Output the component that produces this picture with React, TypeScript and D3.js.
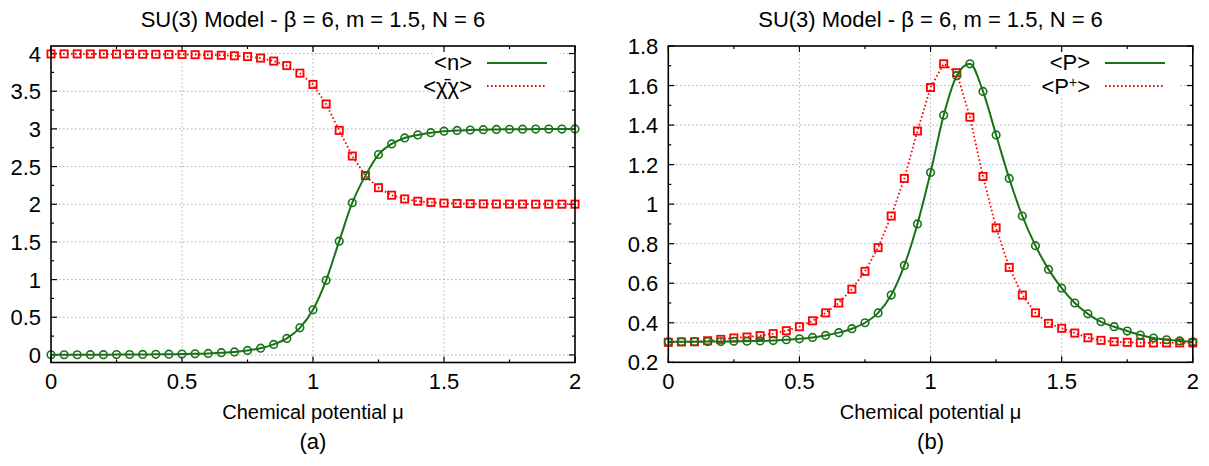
import React from "react";
import * as d3 from "d3";

// chemical potential grid
const MU = [0, 0.05, 0.1, 0.15, 0.2, 0.25, 0.3, 0.35, 0.4, 0.45, 0.5, 0.55, 0.6, 0.65, 0.7, 0.75, 0.8, 0.85, 0.9, 0.95, 1.0,
  1.05, 1.1, 1.15, 1.2, 1.25, 1.3, 1.35, 1.4, 1.45, 1.5, 1.55, 1.6, 1.65, 1.7, 1.75, 1.8, 1.85, 1.9, 1.95, 2.0];

// panel (a)
const N_VALUES = [0.003, 0.003, 0.003, 0.004, 0.004, 0.005, 0.006, 0.007, 0.008, 0.01, 0.012, 0.015, 0.02, 0.03, 0.04, 0.06,
  0.09, 0.14, 0.22, 0.36, 0.6, 0.99, 1.51, 2.02, 2.38, 2.66, 2.8, 2.88, 2.92, 2.95, 2.97, 2.98, 2.985, 2.99, 2.993, 2.995,
  2.996, 2.997, 2.998, 2.998, 2.999];
const CHI_VALUES = [3.995, 3.995, 3.995, 3.994, 3.994, 3.993, 3.992, 3.991, 3.99, 3.989, 3.988, 3.985, 3.982, 3.977, 3.97,
  3.96, 3.94, 3.9, 3.84, 3.74, 3.59, 3.33, 2.98, 2.64, 2.38, 2.22, 2.12, 2.07, 2.04, 2.025, 2.015, 2.01, 2.007, 2.005, 2.003,
  2.002, 2.002, 2.001, 2.001, 2.001, 2.001];

// panel (b)
const P_VALUES = [0.304, 0.304, 0.304, 0.305, 0.305, 0.306, 0.307, 0.308, 0.31, 0.314, 0.319, 0.326, 0.336, 0.35, 0.37, 0.4,
  0.45, 0.54, 0.69, 0.9, 1.16, 1.45, 1.65, 1.71, 1.57, 1.35, 1.13, 0.94, 0.79, 0.67, 0.575, 0.5, 0.445, 0.405, 0.38, 0.358,
  0.338, 0.323, 0.314, 0.308, 0.304];
const PDAG_VALUES = [0.301, 0.303, 0.304, 0.309, 0.316, 0.323, 0.328, 0.335, 0.345, 0.36, 0.38, 0.41, 0.45, 0.5, 0.57, 0.66,
  0.78, 0.94, 1.13, 1.37, 1.59, 1.71, 1.665, 1.44, 1.14, 0.88, 0.68, 0.54, 0.45, 0.397, 0.372, 0.348, 0.324, 0.311, 0.304,
  0.301, 0.299, 0.298, 0.298, 0.298, 0.298];

const X_TICKS = [0, 0.5, 1, 1.5, 2];
const X_TICK_LABELS = ["0", "0.5", "1", "1.5", "2"];
const X_MINOR = [0.25, 0.75, 1.25, 1.75];
const YA_TICKS = [0, 0.5, 1, 1.5, 2, 2.5, 3, 3.5, 4];
const YA_TICK_LABELS = ["0", "0.5", "1", "1.5", "2", "2.5", "3", "3.5", "4"];
const YA_MINOR = [0.25, 0.75, 1.25, 1.75, 2.25, 2.75, 3.25, 3.75];
const YB_TICKS = [0.2, 0.4, 0.6, 0.8, 1.0, 1.2, 1.4, 1.6, 1.8];
const YB_TICK_LABELS = ["0.2", "0.4", "0.6", "0.8", "1", "1.2", "1.4", "1.6", "1.8"];
const YB_MINOR = [0.3, 0.5, 0.7, 0.9, 1.1, 1.3, 1.5, 1.7];

const TITLE = "SU(3) Model - \u03B2 = 6, m = 1.5, N = 6";
const XLABEL = "Chemical potential \u03BC";

const GREEN = "#1a7218";
const RED = "#ff0000";
const FONT = "'Liberation Sans', Arial, Helvetica, sans-serif";

type PanelProps = {
  left: number; right: number; top: number; bottom: number;
  yDomain: [number, number];
  yTicks: number[]; yLabels: string[]; yMinor: number[];
  green: number[]; red: number[];
  greenLabel: React.ReactNode; redLabel: React.ReactNode;
  legendTextX: number; legendBox: [number, number, number, number];
  tag: string;
};

function Panel(p: PanelProps) {
  const x = d3.scaleLinear().domain([0, 2]).range([p.left, p.right]);
  const y = d3.scaleLinear().domain(p.yDomain).range([p.bottom, p.top]);
  const gLine = d3.line<number>().x((_, i) => x(MU[i])).y((d) => y(d)).curve(d3.curveMonotoneX);
  const rLine = d3.line<number>().x((_, i) => x(MU[i])).y((d) => y(d));
  const cx = (p.left + p.right) / 2;
  const eps = 1e-6;
  const yGrid = p.yTicks.filter((t) => y(t) > p.top + 1 && y(t) < p.bottom - 1);
  const xGrid = X_TICKS.filter((t) => t > eps && t < 2 - eps);
  const lgX1 = p.legendTextX + 15;
  const lgX2 = p.legendTextX + 75;
  return (
    <g>
      <text x={cx} y={27} textAnchor="middle" fontSize={22} fontFamily={FONT}>{TITLE}</text>
      {/* grid */}
      <g stroke="#b0b0b0" strokeWidth={1} strokeDasharray="1.5,2.5">
        {yGrid.map((t) => <line key={"gy" + t} x1={p.left} x2={p.right} y1={y(t)} y2={y(t)} />)}
        {xGrid.map((t) => <line key={"gx" + t} x1={x(t)} x2={x(t)} y1={p.top} y2={p.bottom} />)}
      </g>
      <rect x={p.legendBox[0]} y={p.legendBox[1]} width={p.legendBox[2]} height={p.legendBox[3]} fill="#fff" />
      {/* ticks */}
      <g stroke="#000" strokeWidth={1.2}>
        {p.yTicks.map((t) => (
          <g key={"ty" + t}>
            <line x1={p.left} x2={p.left + 6} y1={y(t)} y2={y(t)} />
            <line x1={p.right} x2={p.right - 6} y1={y(t)} y2={y(t)} />
          </g>
        ))}
        {p.yMinor.map((t) => (
          <g key={"tym" + t}>
            <line x1={p.left} x2={p.left + 3} y1={y(t)} y2={y(t)} />
            <line x1={p.right} x2={p.right - 3} y1={y(t)} y2={y(t)} />
          </g>
        ))}
        {X_TICKS.map((t) => (
          <g key={"tx" + t}>
            <line x1={x(t)} x2={x(t)} y1={p.bottom} y2={p.bottom - 6} />
            <line x1={x(t)} x2={x(t)} y1={p.top} y2={p.top + 6} />
          </g>
        ))}
        {X_MINOR.map((t) => (
          <g key={"txm" + t}>
            <line x1={x(t)} x2={x(t)} y1={p.bottom} y2={p.bottom - 3} />
            <line x1={x(t)} x2={x(t)} y1={p.top} y2={p.top + 3} />
          </g>
        ))}
      </g>
      {/* data */}
      <path d={rLine(p.red) || ""} fill="none" stroke={RED} strokeWidth={1.8} strokeDasharray="1.6,2.4" />
      {p.red.map((d, i) => (
        <rect key={"r" + i} x={x(MU[i]) - 3.6} y={y(d) - 3.6} width={7.2} height={7.2} fill="none" stroke={RED} strokeWidth={1.8} />
      ))}
      <path d={gLine(p.green) || ""} fill="none" stroke={GREEN} strokeWidth={2} />
      {p.green.map((d, i) => (
        <circle key={"g" + i} cx={x(MU[i])} cy={y(d)} r={3.8} fill="none" stroke={GREEN} strokeWidth={1.6} />
      ))}
      {/* frame */}
      <rect x={p.left} y={p.top} width={p.right - p.left} height={p.bottom - p.top} fill="none" stroke="#000" strokeWidth={1.6} />
      {/* tick labels */}
      {p.yTicks.map((t, i) => (
        <text key={"ly" + t} x={p.left - 10} y={y(t) + 8} textAnchor="end" fontSize={22} fontFamily={FONT}>{p.yLabels[i]}</text>
      ))}
      {X_TICKS.map((t, i) => (
        <text key={"lx" + t} x={x(t)} y={389} textAnchor="middle" fontSize={22} fontFamily={FONT}>{X_TICK_LABELS[i]}</text>
      ))}
      <text x={cx} y={419} textAnchor="middle" fontSize={20} fontFamily={FONT}>{XLABEL}</text>
      <text x={cx} y={449} textAnchor="middle" fontSize={22} fontFamily={FONT}>{p.tag}</text>
      {/* legend */}
      <text x={p.legendTextX} y={70} textAnchor="end" fontSize={22} fontFamily={FONT}>{p.greenLabel}</text>
      <line x1={lgX1} x2={lgX2} y1={63} y2={63} stroke={GREEN} strokeWidth={2} />
      <text x={p.legendTextX} y={94} textAnchor="end" fontSize={22} fontFamily={FONT}>{p.redLabel}</text>
      <line x1={lgX1} x2={lgX2} y1={86} y2={86} stroke={RED} strokeWidth={1.8} strokeDasharray="1.6,2.4" />
    </g>
  );
}

export default function App() {
  return (
    <svg width={1209} height={466} viewBox="0 0 1209 466" style={{ position: "absolute", left: 0, top: 0, background: "#fff" }}>
      <rect x={0} y={0} width={1209} height={466} fill="#fff" />
      <Panel left={51} right={575} top={46} bottom={362.5} yDomain={[-0.1, 4.1]}
        yTicks={YA_TICKS} yLabels={YA_TICK_LABELS} yMinor={YA_MINOR}
        green={N_VALUES} red={CHI_VALUES}
        greenLabel={"<n>"} redLabel={"<\u03C7\u0304\u03C7>"}
        legendTextX={472} legendBox={[433, 48, 127, 50]} tag="(a)" />
      <Panel left={668.3} right={1192.8} top={46} bottom={362.3} yDomain={[0.2, 1.8]}
        yTicks={YB_TICKS} yLabels={YB_TICK_LABELS} yMinor={YB_MINOR}
        green={P_VALUES} red={PDAG_VALUES}
        greenLabel={"<P>"} redLabel={<>{"<P"}<tspan dy={-7} fontSize={14}>+</tspan><tspan dy={7}>{">"}</tspan></>}
        legendTextX={1090} legendBox={[1032, 48, 146, 50]} tag="(b)" />
    </svg>
  );
}
